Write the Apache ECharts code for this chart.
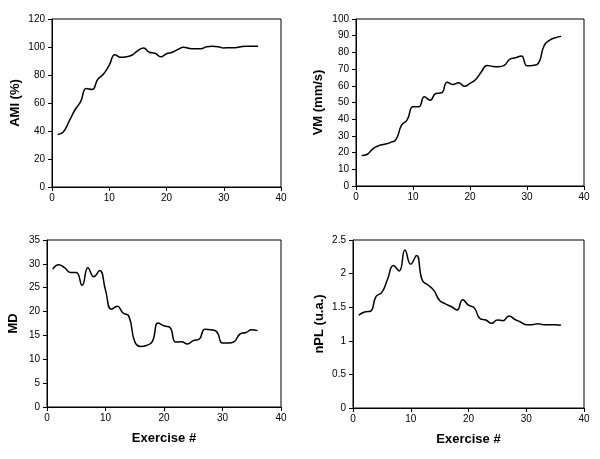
<!DOCTYPE html>
<html>
<head>
<meta charset="utf-8">
<script src="https://cdn.jsdelivr.net/npm/echarts@6/dist/echarts.min.js"></script>
<style>html,body{margin:0;padding:0;background:#fff;}#c{width:600px;height:459px;}</style>
</head>
<body>
<div id="c"></div>
<script>
var exercise = [1,2,3,4,5,6,7,8,9,10,11,12,13,14,15,16,17,18,19,20,21,22,23,24,25,26,27,28,29,30,31,32,33,34,35,36];
var ami = [37.5,39.5,47,55,61,70.4,69.7,77,80.7,87,94.5,92.6,93,94.3,97.4,99.3,96.2,95.5,93,95.2,96.2,98.3,99.8,99,98.8,98.8,100.2,100.5,100.2,99.3,99.5,99.5,100.2,100.5,100.5,100.5];
var vm = [18.2,19,22.4,24.2,25,26,27.8,36.4,39.8,47.4,47.4,53.4,51.4,55.4,55.8,62.2,60.8,61.8,59.8,61.4,63.8,68.4,72.2,71.6,71.4,72.2,76,76.8,77.8,72,72.2,73.5,84,87.4,88.8,89.6];
var md = [28.9,29.8,29.2,28.2,28.2,25.5,29.2,27.3,28.6,24.5,20.5,21.1,19.7,19,13.7,12.7,12.9,13.7,17.6,17,16.7,13.6,13.7,13.2,13.9,14.2,16.3,16.2,15.8,13.4,13.4,13.7,15.3,15.6,16.2,16];
var npl = [1.38,1.43,1.44,1.66,1.72,1.92,2.12,2.04,2.35,2.14,2.27,1.9,1.83,1.75,1.6,1.55,1.51,1.46,1.61,1.53,1.49,1.33,1.31,1.26,1.31,1.3,1.37,1.32,1.28,1.24,1.24,1.255,1.24,1.24,1.24,1.23];
var yNames = ['AMI (%)','VM (mm/s)','MD','nPL (u.a.)'];
var yMax = [120,100,35,2.5];
var yInt = [20,10,5,0.5];
var xName = 'Exercise #';

var FONT = 'Liberation Sans, Arial, sans-serif';
var grids = [
  {left:52, top:19, width:229, height:168},
  {left:356, top:19, width:228, height:167},
  {left:47, top:240, width:234, height:167},
  {left:353, top:240, width:231, height:168}
];
var yGaps = [30,31,27,27];
var series = [ami, vm, md, npl];

function pairs(v){ return exercise.map(function(x,i){ return [x, v[i]]; }); }

var option = {
  animation:false,
  backgroundColor:'#fff',
  grid: grids.map(function(g){ return Object.assign({show:true, borderColor:'#000', borderWidth:1, backgroundColor:'transparent'}, g); }),
  xAxis: grids.map(function(g,i){ return {
    type:'value', gridIndex:i, min:0, max:40, interval:10,
    name: i>=2 ? xName : '', nameLocation:'middle', nameGap:25,
    nameTextStyle:{fontFamily:FONT, fontWeight:'bold', fontSize:13, color:'#000'},
    axisLine:{show:true, lineStyle:{color:'#000', width:1}},
    axisTick:{show:true, inside:false, length:4, lineStyle:{color:'#000'}},
    axisLabel:{fontFamily:FONT, fontSize:10, color:'#000', margin:6},
    splitLine:{show:false}
  }; }),
  yAxis: grids.map(function(g,i){ return {
    type:'value', gridIndex:i, min:0, max:yMax[i], interval:yInt[i],
    name: yNames[i], nameLocation:'middle', nameGap:yGaps[i], nameRotate:90,
    nameTextStyle:{fontFamily:FONT, fontWeight:'bold', fontSize:13, color:'#000'},
    axisLine:{show:true, lineStyle:{color:'#000', width:1}},
    axisTick:{show:true, inside:false, length:4, lineStyle:{color:'#000'}},
    axisLabel:{fontFamily:FONT, fontSize:10, color:'#000', margin:7},
    splitLine:{show:false}
  }; }),
  series: series.map(function(v,i){ return {
    type:'line', xAxisIndex:i, yAxisIndex:i, data:pairs(v),
    smooth:0.5, showSymbol:false, symbol:'none',
    lineStyle:{color:'#000', width:1.5}
  }; })
};
var chart = echarts.init(document.getElementById('c'), null, {renderer:'canvas'});
chart.setOption(option);
</script>
</body>
</html>
